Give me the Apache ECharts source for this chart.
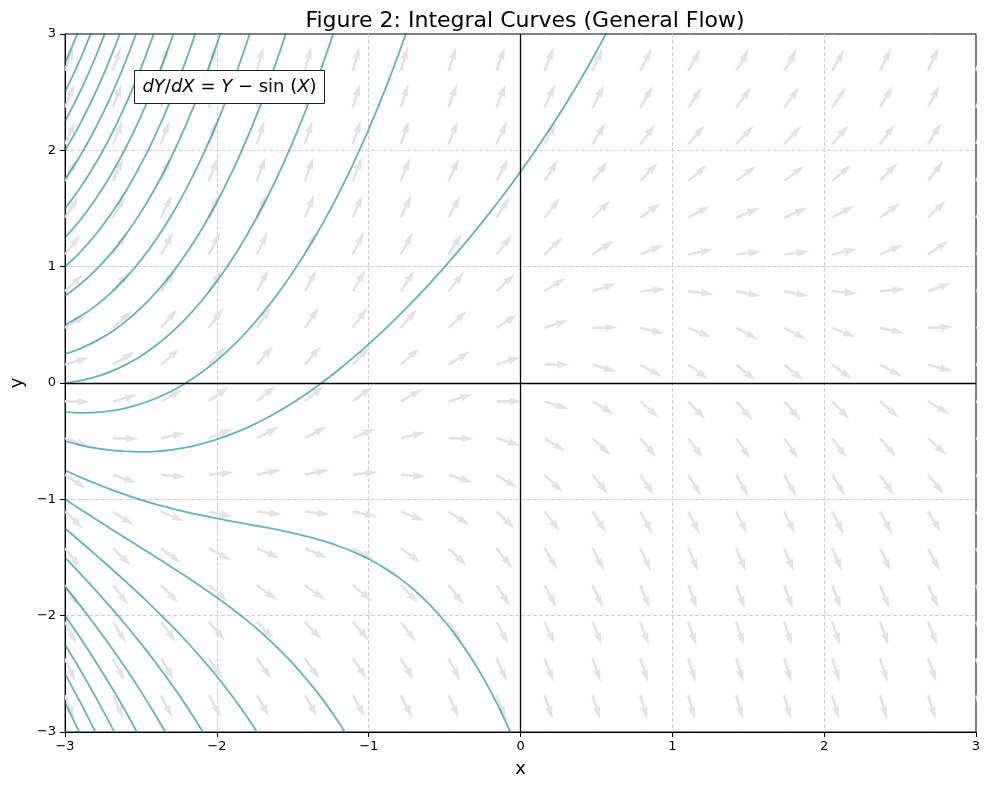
<!DOCTYPE html>
<html>
<head>
<meta charset="utf-8">
<title>Integral Curves</title>
<script src="https://cdn.jsdelivr.net/npm/echarts@6/dist/echarts.min.js"></script>
<style>
  html, body { margin: 0; padding: 0; background: #fff; }
  #chart { width: 989px; height: 790px; }
</style>
</head>
<body>
<div id="chart"></div>
<script>
// direction field grid (arrow tails)
const fieldX = [-3, -2.684, -2.368, -2.053, -1.737, -1.421, -1.105, -0.789, -0.474, -0.158,
  0.158, 0.474, 0.789, 1.105, 1.421, 1.737, 2.053, 2.368, 2.684, 3];
const fieldY = [-3, -2.684, -2.368, -2.053, -1.737, -1.421, -1.105, -0.789, -0.474, -0.158,
  0.158, 0.474, 0.789, 1.105, 1.421, 1.737, 2.053, 2.368, 2.684, 3];
// slope at each grid point, one row per fieldY value
const fieldSlope = [
  [-2.86, -2.56, -2.30, -2.11, -2.01, -2.01, -2.11, -2.29, -2.54, -2.84, -3.16, -3.46, -3.71, -3.89, -3.99, -3.99, -3.89, -3.70, -3.44, -3.14],
  [-2.54, -2.24, -1.99, -1.80, -1.70, -1.70, -1.79, -1.97, -2.23, -2.53, -2.84, -3.14, -3.39, -3.58, -3.67, -3.67, -3.57, -3.38, -3.13, -2.83],
  [-2.23, -1.93, -1.67, -1.48, -1.38, -1.38, -1.47, -1.66, -1.91, -2.21, -2.53, -2.82, -3.08, -3.26, -3.36, -3.35, -3.25, -3.07, -2.81, -2.51],
  [-1.91, -1.61, -1.36, -1.17, -1.07, -1.06, -1.16, -1.34, -1.60, -1.90, -2.21, -2.51, -2.76, -2.95, -3.04, -3.04, -2.94, -2.75, -2.50, -2.19],
  [-1.60, -1.30, -1.04, -0.85, -0.75, -0.75, -0.84, -1.03, -1.28, -1.58, -1.89, -2.19, -2.45, -2.63, -2.73, -2.72, -2.62, -2.44, -2.18, -1.88],
  [-1.28, -0.98, -0.72, -0.54, -0.44, -0.43, -0.53, -0.71, -0.97, -1.26, -1.58, -1.88, -2.13, -2.32, -2.41, -2.41, -2.31, -2.12, -1.86, -1.56],
  [-0.96, -0.66, -0.41, -0.22, -0.12, -0.12, -0.21, -0.40, -0.65, -0.95, -1.26, -1.56, -1.82, -2.00, -2.09, -2.09, -1.99, -1.80, -1.55, -1.25],
  [-0.65, -0.35, -0.09, 0.10, 0.20, 0.20, 0.11, -0.08, -0.33, -0.63, -0.95, -1.25, -1.50, -1.68, -1.78, -1.78, -1.68, -1.49, -1.23, -0.93],
  [-0.33, -0.03, 0.22, 0.41, 0.51, 0.52, 0.42, 0.24, -0.02, -0.32, -0.63, -0.93, -1.18, -1.37, -1.46, -1.46, -1.36, -1.17, -0.92, -0.62],
  [-0.02, 0.28, 0.54, 0.73, 0.83, 0.83, 0.74, 0.55, 0.30, 0.00, -0.32, -0.61, -0.87, -1.05, -1.15, -1.14, -1.04, -0.86, -0.60, -0.30],
  [0.30, 0.60, 0.86, 1.04, 1.14, 1.15, 1.05, 0.87, 0.61, 0.32, 0.00, -0.30, -0.55, -0.74, -0.83, -0.83, -0.73, -0.54, -0.28, 0.02],
  [0.62, 0.92, 1.17, 1.36, 1.46, 1.46, 1.37, 1.18, 0.93, 0.63, 0.32, 0.02, -0.24, -0.42, -0.52, -0.51, -0.41, -0.22, 0.03, 0.33],
  [0.93, 1.23, 1.49, 1.68, 1.78, 1.78, 1.68, 1.50, 1.25, 0.95, 0.63, 0.33, 0.08, -0.11, -0.20, -0.20, -0.10, 0.09, 0.35, 0.65],
  [1.25, 1.55, 1.80, 1.99, 2.09, 2.09, 2.00, 1.82, 1.56, 1.26, 0.95, 0.65, 0.40, 0.21, 0.12, 0.12, 0.22, 0.41, 0.66, 0.96],
  [1.56, 1.86, 2.12, 2.31, 2.41, 2.41, 2.32, 2.13, 1.88, 1.58, 1.26, 0.97, 0.71, 0.53, 0.43, 0.44, 0.54, 0.72, 0.98, 1.28],
  [1.88, 2.18, 2.44, 2.62, 2.72, 2.73, 2.63, 2.45, 2.19, 1.89, 1.58, 1.28, 1.03, 0.84, 0.75, 0.75, 0.85, 1.04, 1.30, 1.60],
  [2.19, 2.50, 2.75, 2.94, 3.04, 3.04, 2.95, 2.76, 2.51, 2.21, 1.90, 1.60, 1.34, 1.16, 1.06, 1.07, 1.17, 1.36, 1.61, 1.91],
  [2.51, 2.81, 3.07, 3.25, 3.35, 3.36, 3.26, 3.08, 2.82, 2.53, 2.21, 1.91, 1.66, 1.47, 1.38, 1.38, 1.48, 1.67, 1.93, 2.23],
  [2.83, 3.13, 3.38, 3.57, 3.67, 3.67, 3.58, 3.39, 3.14, 2.84, 2.53, 2.23, 1.97, 1.79, 1.70, 1.70, 1.80, 1.99, 2.24, 2.54],
  [3.14, 3.44, 3.70, 3.89, 3.99, 3.99, 3.89, 3.71, 3.46, 3.16, 2.84, 2.54, 2.29, 2.11, 2.01, 2.01, 2.11, 2.30, 2.56, 2.86]
];

// integral curves: all start at x = -3, sampled every 0.1 in x
const curveX = [-3.0, -2.9, -2.8, -2.7, -2.6, -2.5, -2.4, -2.3, -2.2, -2.1, -2.0, -1.9, -1.8, -1.7, -1.6,
  -1.5, -1.4, -1.3, -1.2, -1.1, -1.0, -0.9, -0.8, -0.7, -0.6, -0.5, -0.4, -0.3, -0.2, -0.1,
  0.0, 0.1, 0.2, 0.3, 0.4, 0.5, 0.6];
const curveStart = [3, 2.75, 2.5, 2.25, 2, 1.75, 1.5, 1.25, 1, 0.75, 0.5, 0.25, 0,
  -0.25, -0.5, -0.75, -1, -1.25, -1.5, -1.75, -2, -2.25, -2.5, -2.75, -3];
const curveY = [
  [3.000, 3.335],
  [2.750, 3.059],
  [2.500, 2.783, 3.106],
  [2.250, 2.507, 2.800, 3.135],
  [2.000, 2.230, 2.495, 2.797, 3.141],
  [1.750, 1.954, 2.190, 2.460, 2.768, 3.118],
  [1.500, 1.678, 1.884, 2.122, 2.395, 2.706, 3.057],
  [1.250, 1.401, 1.579, 1.785, 2.022, 2.294, 2.602, 2.950, 3.342],
  [1.000, 1.125, 1.274, 1.448, 1.649, 1.881, 2.146, 2.447, 2.786, 3.167],
  [0.750, 0.849, 0.968, 1.110, 1.276, 1.469, 1.691, 1.943, 2.229, 2.552, 2.913, 3.317],
  [0.500, 0.573, 0.663, 0.773, 0.903, 1.057, 1.235, 1.440, 1.673, 1.937, 2.234, 2.566, 2.937, 3.350],
  [0.250, 0.296, 0.358, 0.435, 0.530, 0.645, 0.780, 0.936, 1.117, 1.322, 1.554, 1.815, 2.107, 2.432, 2.793, 3.192],
  [0.000, 0.020, 0.052, 0.098, 0.158, 0.233, 0.324, 0.433, 0.560, 0.707, 0.875, 1.064, 1.277, 1.515, 1.779,
    2.071, 2.394, 2.748, 3.137],
  [-0.250, -0.256, -0.253, -0.240, -0.215, -0.180, -0.131, -0.071, 0.004, 0.092, 0.195, 0.313, 0.447, 0.598,
    0.765, 0.951, 1.155, 1.379, 1.624, 1.891, 2.181, 2.496, 2.838, 3.208],
  [-0.500, -0.533, -0.559, -0.577, -0.588, -0.592, -0.587, -0.574, -0.553, -0.523, -0.485, -0.438, -0.383,
    -0.320, -0.249, -0.170, -0.083, 0.011, 0.112, 0.220, 0.334, 0.455, 0.581, 0.714, 0.853, 0.998, 1.149,
    1.305, 1.469, 1.639, 1.817, 2.003, 2.198, 2.403, 2.620, 2.850, 3.094],
  [-0.750, -0.809, -0.864, -0.915, -0.961, -1.004, -1.043, -1.077, -1.109, -1.138, -1.164, -1.189, -1.213,
    -1.237, -1.262, -1.290, -1.321, -1.358, -1.401, -1.452, -1.513, -1.587, -1.675, -1.779, -1.903, -2.048,
    -2.217, -2.415, -2.642, -2.904, -3.205],
  [-1.000, -1.085, -1.169, -1.252, -1.334, -1.416, -1.498, -1.581, -1.665, -1.753, -1.844, -1.940, -2.043,
    -2.154, -2.276, -2.410, -2.560, -2.726, -2.913, -3.123],
  [-1.250, -1.362, -1.475, -1.590, -1.707, -1.828, -1.954, -2.084, -2.222, -2.367, -2.523, -2.691, -2.873, -3.072],
  [-1.500, -1.638, -1.780, -1.927, -2.080, -2.240, -2.409, -2.588, -2.778, -2.982, -3.203],
  [-1.750, -1.914, -2.085, -2.265, -2.453, -2.653, -2.865, -3.091],
  [-2.000, -2.190, -2.391, -2.602, -2.826, -3.065],
  [-2.250, -2.467, -2.696, -2.939, -3.199],
  [-2.500, -2.743, -3.001, -3.277],
  [-2.750, -3.019],
  [-3.000, -3.296]
];

const FONT = 'DejaVu Sans';
const minus = v => (v < 0 ? '\u2212' + (-v) : String(v));

const arrowData = [];
fieldY.forEach(function (y, j) {
  fieldX.forEach(function (x, i) {
    arrowData.push([x, y, fieldSlope[j][i]]);
  });
});

// quiver-like arrow, tail at the point, fixed screen length
function renderArrow(params, api) {
  const p = api.coord([api.value(0), api.value(1)]);
  const a = Math.atan(api.value(2));
  const c = Math.cos(a), s = -Math.sin(a);
  const L = 25, w = 2.6;
  const local = [[0, -w / 2], [L - 4.5 * w, -w / 2], [L - 5 * w, -1.5 * w], [L, 0],
    [L - 5 * w, 1.5 * w], [L - 4.5 * w, w / 2], [0, w / 2]];
  const pts = local.map(function (q) {
    return [p[0] + q[0] * c - q[1] * s, p[1] + q[0] * s + q[1] * c];
  });
  return {
    type: 'polygon',
    shape: {points: pts},
    style: {fill: '#e3e3e3'}
  };
}

const series = [
  {
    name: 'field',
    type: 'custom',
    renderItem: renderArrow,
    data: arrowData,
    encode: {x: 0, y: 1},
    clip: true,
    silent: true,
    z: 1
  }
];

curveY.forEach(function (ys, n) {
  series.push({
    name: 'y0=' + curveStart[n],
    type: 'line',
    data: ys.map(function (y, k) { return [curveX[k], y]; }),
    showSymbol: false,
    smooth: 0.3,
    clip: true,
    silent: true,
    lineStyle: {color: 'rgba(0,128,128,0.6)', width: 1.8},
    z: 3
  });
});

series[1].markLine = {
  symbol: 'none',
  silent: true,
  label: {show: false},
  lineStyle: {color: '#000', width: 1.3, type: 'solid'},
  data: [{yAxis: 0}, {xAxis: 0}],
  z: 4
};

const gridLine = {show: true, showMinLine: false, showMaxLine: false,
  lineStyle: {color: '#d0d0d0', type: [4, 2], width: 1}};

const option = {
  backgroundColor: '#fff',
  animation: false,
  textStyle: {fontFamily: FONT},
  title: {
    text: 'Figure 2: Integral Curves (General Flow)',
    left: 520,
    top: 5,
    textAlign: 'center',
    textStyle: {fontFamily: FONT, fontSize: 22, fontWeight: 'normal', color: '#000'}
  },
  grid: {
    left: 65, right: 13, top: 34, bottom: 58,
    show: true, borderColor: '#000', borderWidth: 1, backgroundColor: 'transparent'
  },
  xAxis: {
    type: 'value', min: -3, max: 3, interval: 1,
    name: 'x', nameLocation: 'middle', nameGap: 28,
    nameTextStyle: {fontFamily: FONT, fontSize: 18, color: '#000'},
    axisLine: {show: true, onZero: false, lineStyle: {color: '#000', width: 1}},
    axisTick: {show: true, length: 5, lineStyle: {color: '#000'}},
    axisLabel: {color: '#000', fontFamily: FONT, fontSize: 13, margin: 8, formatter: minus},
    splitLine: gridLine
  },
  yAxis: {
    type: 'value', min: -3, max: 3, interval: 1,
    name: 'y', nameLocation: 'middle', nameGap: 36,
    nameTextStyle: {fontFamily: FONT, fontSize: 18, color: '#000'},
    axisLine: {show: true, onZero: false, lineStyle: {color: '#000', width: 1}},
    axisTick: {show: true, length: 5, lineStyle: {color: '#000'}},
    axisLabel: {color: '#000', fontFamily: FONT, fontSize: 13, margin: 9, formatter: minus},
    splitLine: gridLine
  },
  graphic: [
    {
      type: 'group',
      left: 134,
      top: 70,
      z: 100,
      children: [
        {
          type: 'rect',
          z: 100,
          shape: {x: 0, y: 0, width: 190, height: 33},
          style: {fill: 'rgba(255,255,255,0.92)', stroke: '#222', lineWidth: 1}
        },
        {
          type: 'text',
          z: 101,
          x: 95,
          y: 17,
          style: {
            text: '{i|dY}/{i|dX} = {i|Y} \u2212 sin ({i|X})',
            align: 'center',
            verticalAlign: 'middle',
            fontFamily: FONT,
            fontSize: 18,
            fill: '#000',
            rich: {
              i: {fontFamily: FONT, fontSize: 18, fontStyle: 'italic', fill: '#000'}
            }
          }
        }
      ]
    }
  ],
  series: series
};

const chart = echarts.init(document.getElementById('chart'), null, {renderer: 'canvas'});
chart.setOption(option);
</script>
</body>
</html>
